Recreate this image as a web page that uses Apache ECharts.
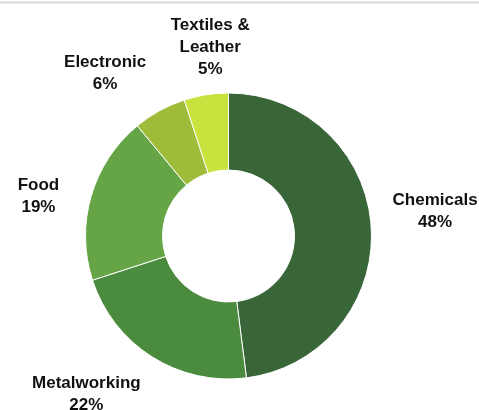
<!DOCTYPE html>
<html>
<head>
<meta charset="utf-8">
<script src="https://cdn.jsdelivr.net/npm/echarts@6/dist/echarts.min.js"></script>
<style>
  html, body { margin: 0; padding: 0; background: #fff; }
  #chart { width: 479px; height: 410px; }
</style>
</head>
<body>
<div id="chart"></div>
<script>
// Sector shares by industry (percent), clockwise from 12 o'clock
const categories = ['Chemicals', 'Metalworking', 'Food', 'Electronic', 'Textiles &\nLeather'];
const shares = [48, 22, 19, 6, 5];
const colors = ['#386639', '#4b8b3e', '#66a545', '#9ebb3a', '#c8e33e'];

// Label placement: distance of label centres from the pie centre, plus per-label nudges
const labelDist = 200;
const labelNudge = [[7, -12], [-35, -11], [2, 16], [-27, 13], [13, 9]];

const cx = 228.5, cy = 236;
const total = shares.reduce((a, b) => a + b, 0);
const midAngles = [];
let acc = 0;
shares.forEach(v => {
  midAngles.push(((acc + v / 2) / total) * 2 * Math.PI);
  acc += v;
});

const chart = echarts.init(document.getElementById('chart'), null, { renderer: 'canvas' });
chart.setOption({
  animation: false,
  backgroundColor: '#ffffff',
  graphic: [{
    type: 'line',
    shape: { x1: 0, y1: 2.5, x2: 479, y2: 2.5 },
    style: { stroke: '#d9d9d9', lineWidth: 2 }
  }],
  series: [{
    type: 'pie',
    center: [cx, cy],
    radius: [66, 143],
    startAngle: 90,
    clockwise: true,
    avoidLabelOverlap: false,
    itemStyle: { borderColor: '#ffffff', borderWidth: 1 },
    label: {
      show: true,
      position: 'outside',
      formatter: p => p.name + '\n' + p.value + '%',
      fontFamily: 'Liberation Sans, Arial, sans-serif',
      fontWeight: 'bold',
      fontSize: 17,
      lineHeight: 22,
      color: '#111111',
      align: 'center'
    },
    labelLine: { show: false },
    labelLayout: function (params) {
      const i = params.dataIndex;
      const a = midAngles[i];
      return {
        x: cx + labelDist * Math.sin(a) + labelNudge[i][0],
        y: cy - labelDist * Math.cos(a) + labelNudge[i][1],
        align: 'center',
        verticalAlign: 'middle'
      };
    },
    data: categories.map((c, i) => ({
      name: c,
      value: shares[i],
      itemStyle: { color: colors[i] }
    }))
  }]
});
</script>
</body>
</html>
